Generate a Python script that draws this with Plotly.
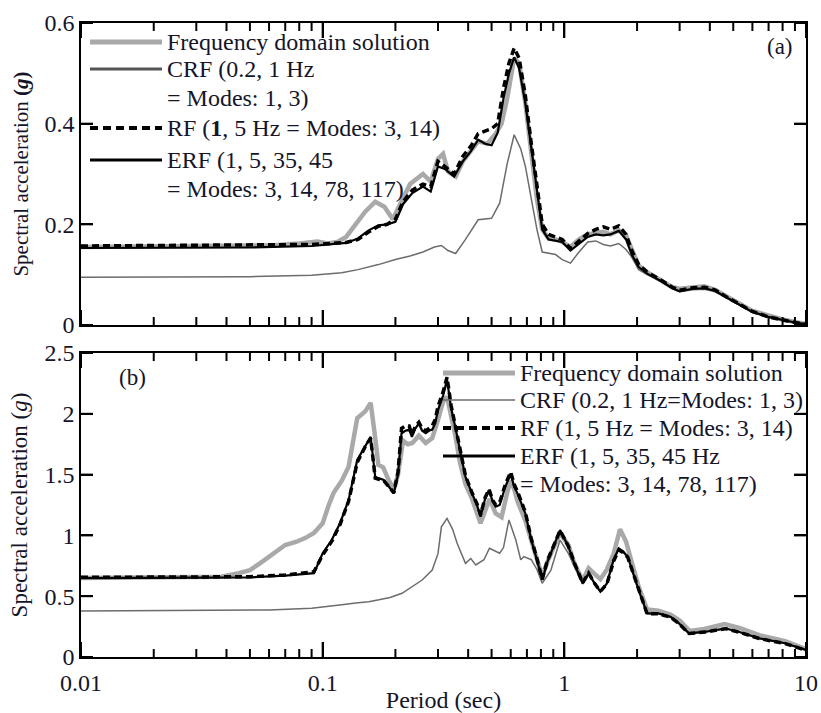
import math
import plotly.graph_objects as go

# ---------------- data: panel (a) ----------------
a_fd_T = [0.01, 0.03, 0.06, 0.08, 0.095, 0.105, 0.115, 0.125, 0.14, 0.15, 0.165, 0.18, 0.195, 0.21, 0.23,
          0.26, 0.28, 0.30, 0.315, 0.33, 0.355, 0.38, 0.41, 0.44, 0.48, 0.52, 0.55, 0.58, 0.62, 0.65, 0.69,
          0.73, 0.77, 0.81, 0.86, 0.92, 0.98, 1.06, 1.15, 1.25, 1.35, 1.45, 1.55, 1.68, 1.8, 1.9, 2.03, 2.2,
          2.5, 2.8, 3.0, 3.4, 3.8, 4.2, 4.6, 5.2, 6, 7, 8, 9, 10]
a_fd_S = [0.155, 0.156, 0.158, 0.162, 0.166, 0.162, 0.165, 0.175, 0.205, 0.225, 0.245, 0.235, 0.21, 0.24, 0.28,
          0.30, 0.285, 0.33, 0.34, 0.305, 0.295, 0.325, 0.345, 0.365, 0.36, 0.38, 0.40, 0.45, 0.53, 0.52, 0.44,
          0.35, 0.25, 0.19, 0.172, 0.17, 0.165, 0.155, 0.17, 0.18, 0.182, 0.185, 0.18, 0.188, 0.178, 0.15, 0.118, 0.105,
          0.09, 0.075, 0.072, 0.075, 0.077, 0.07, 0.06, 0.045, 0.028, 0.018, 0.011, 0.006, 0.002]

a_rf_T = [0.01, 0.05, 0.09, 0.11, 0.125, 0.14, 0.155, 0.17, 0.185, 0.2, 0.215, 0.235, 0.26, 0.28, 0.30, 0.32,
          0.35, 0.38, 0.41, 0.44, 0.47, 0.50, 0.53, 0.56, 0.59, 0.62, 0.65, 0.69, 0.73, 0.77, 0.81, 0.86, 0.92,
          0.98, 1.06, 1.15, 1.25, 1.35, 1.45, 1.55, 1.68, 1.8, 1.9, 2.03, 2.2, 2.5, 2.8, 3.0, 3.4, 3.8, 4.2, 4.6,
          5.2, 6, 7, 8, 9, 10]
a_erf_S = [0.153, 0.154, 0.157, 0.16, 0.163, 0.172, 0.188, 0.198, 0.2, 0.205, 0.24, 0.262, 0.275, 0.265, 0.315, 0.31,
           0.295, 0.325, 0.345, 0.368, 0.36, 0.357, 0.382, 0.45, 0.5, 0.532, 0.51, 0.44, 0.35, 0.27, 0.19, 0.17, 0.168,
           0.165, 0.148, 0.162, 0.175, 0.18, 0.178, 0.18, 0.187, 0.17, 0.14, 0.115, 0.102, 0.088, 0.073, 0.067, 0.072,
           0.073, 0.068, 0.057, 0.042, 0.026, 0.016, 0.01, 0.005, 0.002]
a_rf_S = [0.157, 0.158, 0.16, 0.162, 0.164, 0.17, 0.185, 0.196, 0.2, 0.21, 0.245, 0.268, 0.28, 0.275, 0.325, 0.315,
          0.30, 0.335, 0.355, 0.38, 0.385, 0.39, 0.40, 0.47, 0.52, 0.55, 0.53, 0.455, 0.36, 0.28, 0.2, 0.18, 0.175,
          0.17, 0.152, 0.168, 0.182, 0.19, 0.195, 0.19, 0.197, 0.18, 0.148, 0.12, 0.105, 0.09, 0.075, 0.069, 0.074,
          0.075, 0.07, 0.058, 0.043, 0.027, 0.016, 0.01, 0.005, 0.002]

a_crf_T = [0.01, 0.05, 0.09, 0.12, 0.14, 0.17, 0.2, 0.23, 0.26, 0.29, 0.31, 0.33, 0.355, 0.39, 0.44, 0.5, 0.54,
           0.58, 0.62, 0.66, 0.69, 0.73, 0.77, 0.81, 0.86, 0.92, 0.98, 1.06, 1.15, 1.25, 1.35, 1.45, 1.55, 1.68,
           1.8, 1.9, 2.03, 2.2, 2.5, 2.8, 3.0, 3.4, 3.8, 4.2, 4.6, 5.2, 6, 7, 8, 9, 10]
a_crf_S = [0.095, 0.096, 0.099, 0.104, 0.11, 0.12, 0.13, 0.137, 0.145, 0.155, 0.158, 0.148, 0.142, 0.17, 0.209, 0.212,
           0.242, 0.32, 0.378, 0.35, 0.315, 0.25, 0.19, 0.145, 0.142, 0.14, 0.13, 0.123, 0.145, 0.165, 0.167, 0.16,
           0.157, 0.162, 0.15, 0.135, 0.11, 0.1, 0.087, 0.072, 0.066, 0.07, 0.071, 0.066, 0.056, 0.041, 0.025,
           0.015, 0.009, 0.005, 0.002]

# ---------------- data: panel (b) ----------------
b_fd_T = [0.01, 0.03, 0.038, 0.045, 0.05, 0.055, 0.06, 0.066, 0.07, 0.078, 0.085, 0.092, 0.1, 0.106, 0.111, 0.12,
          0.128, 0.133, 0.139, 0.15, 0.158, 0.165, 0.17, 0.178, 0.188, 0.197, 0.205, 0.215, 0.225, 0.235, 0.25,
          0.267, 0.284, 0.30, 0.315, 0.327, 0.34, 0.354, 0.37, 0.39, 0.415, 0.45, 0.47, 0.49, 0.52, 0.55, 0.58,
          0.6, 0.62, 0.64, 0.69, 0.73, 0.77, 0.81, 0.85, 0.9, 0.96, 1.04, 1.1, 1.19, 1.26, 1.34, 1.41, 1.5, 1.6,
          1.7, 1.8, 1.9, 2.03, 2.2, 2.45, 2.75, 3.0, 3.3, 3.8, 4.6, 5.3, 6.4, 8.2, 10]
b_fd_S = [0.65, 0.652, 0.66, 0.69, 0.715, 0.77, 0.825, 0.885, 0.921, 0.948, 0.98, 1.02, 1.1, 1.25, 1.35, 1.45,
          1.565, 1.75, 1.963, 2.02, 2.09, 1.8, 1.58, 1.56, 1.45, 1.38, 1.5, 1.78, 1.75, 1.76, 1.82,
          1.76, 1.8, 1.95, 2.1, 2.14, 2.0, 1.82, 1.6, 1.42, 1.3, 1.1, 1.2, 1.3, 1.18, 1.15, 1.35,
          1.45, 1.38, 1.28, 1.12, 0.95, 0.8, 0.66, 0.78, 0.9, 1.02, 0.92, 0.77, 0.63, 0.73, 0.68, 0.64, 0.72, 0.85,
          1.05, 0.95, 0.78, 0.58, 0.39, 0.38, 0.35, 0.3, 0.215, 0.23, 0.27, 0.24, 0.18, 0.13, 0.065]

b_rf_T = [0.01, 0.05, 0.07, 0.085, 0.092, 0.1, 0.109, 0.118, 0.128, 0.139, 0.15, 0.158, 0.165, 0.172, 0.179, 0.188,
          0.197, 0.205, 0.212, 0.22, 0.228, 0.234, 0.242, 0.25, 0.258, 0.267, 0.275, 0.284, 0.292, 0.30, 0.315,
          0.327, 0.34, 0.354, 0.37, 0.39, 0.415, 0.435, 0.45, 0.47, 0.488, 0.505, 0.52, 0.54, 0.57, 0.6, 0.62,
          0.64, 0.69, 0.73, 0.77, 0.81, 0.85, 0.9, 0.96, 1.04, 1.1, 1.19, 1.26, 1.34, 1.41, 1.5, 1.6, 1.68, 1.75,
          1.83, 1.93, 2.03, 2.2, 2.45, 2.75, 2.98, 3.28, 3.84, 4.64, 5.27, 6.4, 8.2, 10]
b_erf_S = [0.648, 0.655, 0.67, 0.68, 0.69, 0.853, 0.962, 1.1, 1.29, 1.62, 1.74, 1.81, 1.48, 1.47, 1.456, 1.40,
           1.346, 1.5, 1.84, 1.86, 1.87, 1.81, 1.88, 1.92, 1.86, 1.84, 1.86, 1.87, 1.92, 2.03, 2.15,
           2.28, 2.05, 1.89, 1.7, 1.48, 1.346, 1.25, 1.154, 1.3, 1.373, 1.28, 1.236, 1.25, 1.4, 1.51, 1.4,
           1.346, 1.18, 0.962, 0.8, 0.633, 0.78, 0.907, 1.044, 0.907, 0.77, 0.606, 0.688, 0.6, 0.537, 0.606, 0.8, 0.894, 0.87,
           0.825, 0.68, 0.551, 0.359, 0.359, 0.331, 0.277, 0.195, 0.208, 0.236, 0.208, 0.154, 0.113, 0.058]
b_rf_S = [0.655, 0.66, 0.675, 0.69, 0.70, 0.84, 0.95, 1.09, 1.28, 1.6, 1.73, 1.8, 1.47, 1.46, 1.45, 1.40,
          1.35, 1.52, 1.88, 1.9, 1.9, 1.83, 1.9, 1.93, 1.88, 1.86, 1.88, 1.9, 1.95, 2.06, 2.18,
          2.3, 2.07, 1.9, 1.71, 1.49, 1.35, 1.26, 1.17, 1.31, 1.38, 1.29, 1.25, 1.27, 1.42, 1.52, 1.42,
          1.36, 1.19, 0.97, 0.81, 0.64, 0.79, 0.91, 1.04, 0.91, 0.775, 0.61, 0.69, 0.6, 0.54, 0.6, 0.79, 0.88, 0.86,
          0.82, 0.68, 0.55, 0.355, 0.355, 0.328, 0.275, 0.193, 0.206, 0.233, 0.205, 0.152, 0.11, 0.055]

b_crf_T = [0.01, 0.03, 0.06, 0.09, 0.106, 0.12, 0.137, 0.155, 0.171, 0.19, 0.213, 0.235, 0.258, 0.284, 0.30, 0.31,
           0.327, 0.345, 0.36, 0.39, 0.41, 0.43, 0.465, 0.49, 0.54, 0.56, 0.59, 0.63, 0.66, 0.68, 0.73, 0.77,
           0.81, 0.88, 0.96, 1.04, 1.1, 1.19, 1.26, 1.34, 1.41, 1.5, 1.6, 1.68, 1.75, 1.83, 1.93, 2.03, 2.2, 2.45,
           2.75, 2.98, 3.28, 3.84, 4.64, 5.27, 6.4, 8.2, 10]
b_crf_S = [0.378, 0.38, 0.387, 0.40, 0.414, 0.43, 0.445, 0.455, 0.47, 0.49, 0.524, 0.58, 0.633, 0.715, 0.85, 1.07,
           1.14, 1.05, 0.935, 0.77, 0.81, 0.757, 0.80, 0.894, 0.853, 0.90, 1.127, 0.962, 0.80, 0.825, 0.80, 0.72,
           0.606, 0.715, 0.962, 0.85, 0.74, 0.6, 0.68, 0.6, 0.54, 0.6, 0.8, 0.88, 0.86, 0.82, 0.67, 0.545, 0.355, 0.355,
           0.325, 0.272, 0.19, 0.205, 0.232, 0.205, 0.15, 0.11, 0.055]

x_major = [0.01, 0.1, 1, 10]
x_major_text = ["0.01", "0.1", "1", "10"]
x_minor = [k * 10 ** d for d in (-2, -1, 0) for k in range(2, 10)]
ya_ticks = [0, 0.2, 0.4, 0.6]
ya_text = ["0", "0.2", "0.4", "0.6"]
yb_ticks = [0, 0.5, 1, 1.5, 2, 2.5]
yb_text = ["0", "0.5", "1", "1.5", "2", "2.5"]

legend_a = ["Frequency domain solution", "CRF (0.2, 1 Hz", "= Modes: 1, 3)",
            "RF (<b>1</b>, 5 Hz = Modes: 3, 14)", "ERF (1, 5, 35, 45", "= Modes: 3, 14, 78, 117)"]
legend_b = ["Frequency domain solution", "CRF (0.2, 1 Hz=Modes: 1, 3)", "RF (1, 5 Hz = Modes: 3, 14)",
            "ERF (1, 5, 35, 45 Hz", "= Modes: 3, 14, 78, 117)"]

# ---------------- styles ----------------
FONT = "Liberation Serif"
TXT = "#15152a"
C_FD = "#a9a9a9"
C_CRF = "#6c6c6c"
W, H = 821, 713
L, R, T, B = 81, 15, 23, 56
PH = H - T - B
PW = W - L - R
XR = [-2, 1]
YA_R = [0, 0.6]
YB_R = [0, 2.5]


def py(p):
    return (H - B - p) / PH


def px(p):
    return (p - L) / PW


fig = go.Figure()


def add_panel(xa, ya, fdT, fdS, crfT, crfS, rfT, erfS, rfS):
    fig.add_trace(go.Scatter(x=fdT, y=fdS, mode="lines", line=dict(color=C_FD, width=4.5),
                             xaxis=xa, yaxis=ya, showlegend=False, name="Frequency domain solution"))
    fig.add_trace(go.Scatter(x=crfT, y=crfS, mode="lines", line=dict(color=C_CRF, width=1.5),
                             xaxis=xa, yaxis=ya, showlegend=False, name="CRF"))
    fig.add_trace(go.Scatter(x=rfT, y=erfS, mode="lines", line=dict(color="black", width=2.2),
                             xaxis=xa, yaxis=ya, showlegend=False, name="ERF"))
    fig.add_trace(go.Scatter(x=rfT, y=rfS, mode="lines", line=dict(color="black", width=3.5, dash="7px,4px"),
                             xaxis=xa, yaxis=ya, showlegend=False, name="RF"))


add_panel("x", "y", a_fd_T, a_fd_S, a_crf_T, a_crf_S, a_rf_T, a_erf_S, a_rf_S)
add_panel("x2", "y2", b_fd_T, b_fd_S, b_crf_T, b_crf_S, b_rf_T, b_erf_S, b_rf_S)

xcommon = dict(type="log", range=XR, showline=True, linecolor="black", linewidth=1.5, mirror="ticks",
               ticks="inside", ticklen=15, tickwidth=2, tickcolor="#000000", tickmode="array",
               tickvals=x_major, ticktext=x_major_text, showgrid=False, zeroline=False,
               tickfont=dict(family=FONT, size=24, color=TXT))
ycommon = dict(showline=True, linecolor="black", linewidth=1.5, mirror="ticks", ticks="inside",
               ticklen=12, tickwidth=2, tickcolor="#000000", tickmode="array", showgrid=False,
               zeroline=False, tickfont=dict(family=FONT, size=24, color=TXT))

dom_a = [py(325), 1]
dom_b = [0, py(353)]
fig.update_layout(
    width=W, height=H, margin=dict(l=L, r=R, t=T, b=B, autoexpand=False),
    paper_bgcolor="white", plot_bgcolor="white", showlegend=False,
    xaxis=dict(xcommon, domain=[0, 1], anchor="y", showticklabels=False),
    yaxis=dict(ycommon, domain=dom_a, anchor="x", range=YA_R,
               tickvals=ya_ticks, ticktext=ya_text,
               title=dict(text="Spectral acceleration <b>(<i>g</i>)</b>", standoff=10,
                          font=dict(family=FONT, size=21, color=TXT))),
    xaxis2=dict(xcommon, domain=[0, 1], anchor="y2", ticklabelstandoff=3,
                title=dict(text="Period (sec)", standoff=0, font=dict(family=FONT, size=24, color=TXT))),
    yaxis2=dict(ycommon, domain=dom_b, anchor="x2", range=YB_R,
                tickvals=yb_ticks, ticktext=yb_text,
                title=dict(text="Spectral acceleration (<i>g</i>)", standoff=10,
                           font=dict(family=FONT, size=23, color=TXT))),
)

shapes = []
ann = []

# ---- tick marks along the frame, in paper coordinates (inside, all four sides) ----
TICK = dict(color="#000000", width=2)


def frame_ticks(dom, yr, yvals):
    hfrac = dom[1] - dom[0]
    for vals, ln in ((x_major, 15), (x_minor, 8)):
        f = ln / PH
        for v in vals:
            xf = (math.log10(v) - XR[0]) / (XR[1] - XR[0])
            shapes.append(dict(type="line", xref="paper", yref="paper", x0=xf, x1=xf,
                               y0=dom[0], y1=dom[0] + f, line=TICK, layer="above"))
            shapes.append(dict(type="line", xref="paper", yref="paper", x0=xf, x1=xf,
                               y0=dom[1], y1=dom[1] - f, line=TICK, layer="above"))
    fx = 12 / PW
    for v in yvals:
        yf = dom[0] + (v - yr[0]) / (yr[1] - yr[0]) * hfrac
        shapes.append(dict(type="line", xref="paper", yref="paper", x0=0, x1=fx, y0=yf, y1=yf,
                           line=TICK, layer="above"))
        shapes.append(dict(type="line", xref="paper", yref="paper", x0=1, x1=1 - fx, y0=yf, y1=yf,
                           line=TICK, layer="above"))


frame_ticks(dom_a, YA_R, ya_ticks)
frame_ticks(dom_b, YB_R, yb_ticks)


def legend(x0, x1, xt, rows, specs, texts):
    for yy, st in specs:
        shapes.append(dict(type="line", xref="paper", yref="paper", x0=px(x0), x1=px(x1),
                           y0=py(yy), y1=py(yy), line=st, layer="above"))
    for yy, t in zip(rows, texts):
        ann.append(dict(xref="paper", yref="paper", x=px(xt), y=py(yy), xanchor="left", yanchor="middle",
                        text=t, showarrow=False, font=dict(family=FONT, size=24, color=TXT)))


legend(90, 162, 165, [42, 69, 98, 128, 160, 189],
       [(42, dict(color=C_FD, width=5)), (69, dict(color="#555555", width=3)),
        (128, dict(color="black", width=4, dash="8px,5px")), (160, dict(color="black", width=3))],
       legend_a)
legend(443, 515, 518, [373, 400, 428, 456, 484],
       [(373, dict(color=C_FD, width=5)), (400, dict(color=C_CRF, width=1.5)),
        (428, dict(color="black", width=4, dash="8px,5px")), (456, dict(color="black", width=3))],
       legend_b)

ann.append(dict(xref="paper", yref="paper", x=px(780), y=py(46), xanchor="center", yanchor="middle",
                text="(a)", showarrow=False, font=dict(family=FONT, size=23, color=TXT)))
ann.append(dict(xref="paper", yref="paper", x=px(132), y=py(377), xanchor="center", yanchor="middle",
                text="(b)", showarrow=False, font=dict(family=FONT, size=23, color=TXT)))

fig.update_layout(shapes=shapes, annotations=ann)
fig.write_html("out.html")
